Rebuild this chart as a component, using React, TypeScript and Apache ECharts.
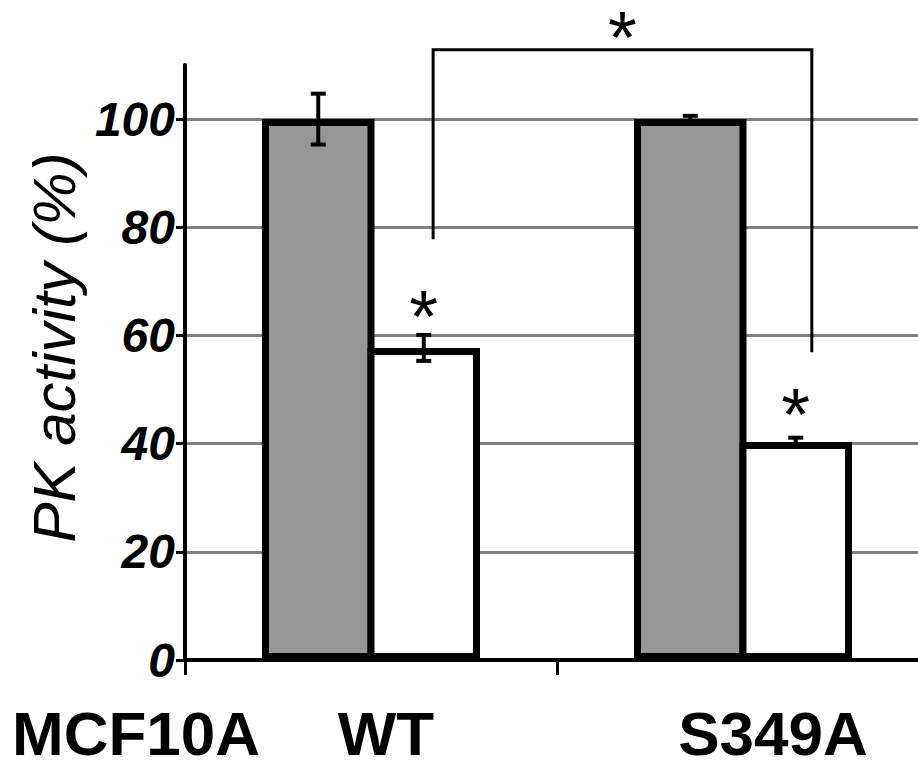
import React, { useEffect, useRef } from "react";
import * as echarts from "echarts";

// ---- data ----
const categories = ["WT", "S349A"];
const groupLabel = "MCF10A";
const controlValues = [100, 100];
const controlErrors = [4.7, 0.6];
const treatedValues = [57.7, 40.3];
const treatedErrors = [2.4, 0.8];
const yTicks = [0, 20, 40, 60, 80, 100];
const yName = "PK activity (%)";
// significance marks above treated bars: [category index, value]
const barStars = [
  [0, 66.2],
  [1, 48.1],
];
// bracket between treated bars: left end value, right end value, top value, star value
const bracketEnds = [77.8, 56.9];
const bracketTop = 112.8;
const bracketStar = 117.9;

// ---- style ----
const FONT = "'Liberation Sans', Arial, sans-serif";
const BAR_W = 112.5;
const BAR_OVERLAP = 7;
const BORDER = 7;
const BAR_OFFSET = (BAR_W - BAR_OVERLAP) / 2;

export default function App() {
  const ref = useRef<HTMLDivElement>(null);
  useEffect(() => {
    if (!ref.current) return;
    const chart = echarts.init(ref.current, null, { renderer: "svg" });

    const errData: number[][] = [];
    categories.forEach((_, i) => {
      errData.push([i, 0, controlValues[i] - controlErrors[i], controlValues[i] + controlErrors[i]]);
      errData.push([i, 1, treatedValues[i] - treatedErrors[i], treatedValues[i] + treatedErrors[i]]);
    });

    const xLabelStyle = {
      fontSize: 62,
      fontWeight: "bold",
      fontFamily: FONT,
      color: "#000",
      lineHeight: 50,
    };

    const option: any = {
      animation: false,
      backgroundColor: "#ffffff",
      grid: { left: 185, top: 65, width: 744, height: 595, containLabel: false, outerBoundsMode: "none" },
      xAxis: {
        type: "category",
        data: categories,
        boundaryGap: true,
        axisLine: { show: true, lineStyle: { color: "#000", width: 4 } },
        axisTick: { show: true, length: 15, alignWithLabel: false, lineStyle: { color: "#000", width: 3 } },
        splitLine: { show: false },
        axisLabel: {
          margin: 48,
          color: "#000",
          formatter: (v: string, i: number) => `{c${i}|${v}}`,
          rich: {
            c0: { ...xLabelStyle, padding: [0, 0, 0, 30] },
            c1: { ...xLabelStyle, padding: [0, 0, 0, 60] },
          },
        },
      },
      yAxis: {
        type: "value",
        min: 0,
        max: 110,
        interval: 20,
        name: yName,
        nameLocation: "middle",
        nameRotate: 90,
        nameGap: 90,
        nameTextStyle: {
          fontSize: 60,
          fontStyle: "italic",
          fontFamily: FONT,
          color: "#000",
          padding: [0, 0, 0, 30],
        },
        axisLine: { show: true, lineStyle: { color: "#000", width: 4 } },
        axisTick: { show: true, length: 9, customValues: yTicks, lineStyle: { color: "#000", width: 3 } },
        axisLabel: {
          customValues: yTicks,
          margin: 10,
          fontSize: 48,
          fontWeight: "bold",
          fontStyle: "italic",
          fontFamily: FONT,
          color: "#000",
        },
        splitLine: { show: true, lineStyle: { color: "#808080", width: 3 } },
      },
      series: [
        {
          name: "Control",
          type: "bar",
          data: controlValues,
          barWidth: BAR_W,
          barGap: `${(-BAR_OVERLAP / BAR_W) * 100}%`,
          itemStyle: { color: "#969696", borderColor: "#000", borderWidth: BORDER },
          z: 2,
        },
        {
          name: "Treated",
          type: "bar",
          data: treatedValues,
          barWidth: BAR_W,
          barGap: `${(-BAR_OVERLAP / BAR_W) * 100}%`,
          itemStyle: { color: "#ffffff", borderColor: "#000", borderWidth: BORDER },
          z: 3,
        },
        {
          name: "Error",
          type: "custom",
          data: errData,
          encode: { x: 0, y: [2, 3] },
          z: 5,
          clip: false,
          renderItem: (params: any, api: any) => {
            const cat = api.value(0);
            const side = api.value(1);
            const lo = api.coord([cat, api.value(2)]);
            const hi = api.coord([cat, api.value(3)]);
            const x = lo[0] + (side === 0 ? -1 : 1) * BAR_OFFSET;
            const cap = 7.5;
            const st = { stroke: "#000", lineWidth: 4 };
            return {
              type: "group",
              children: [
                { type: "line", shape: { x1: x, y1: lo[1], x2: x, y2: hi[1] }, style: st },
                { type: "line", shape: { x1: x - cap, y1: lo[1], x2: x + cap, y2: lo[1] }, style: st },
                { type: "line", shape: { x1: x - cap, y1: hi[1], x2: x + cap, y2: hi[1] }, style: st },
              ],
            };
          },
        },
        {
          name: "Significance",
          type: "custom",
          data: [[0, 0]],
          encode: { x: 0, y: 1 },
          z: 6,
          clip: false,
          silent: true,
          renderItem: (params: any, api: any) => {
            const band = api.size([1, 0])[0];
            const c0 = api.coord([0, 0])[0];
            const c1 = api.coord([1, 0])[0];
            const lx = c0 + band * 0.167;
            const rx = c1 + band * 0.185;
            const yl = api.coord([0, bracketEnds[0]])[1];
            const yr = api.coord([0, bracketEnds[1]])[1];
            const yt = api.coord([0, bracketTop])[1];
            const star = (x: number, y: number) => ({
              type: "text",
              x,
              y,
              style: {
                text: "*",
                fontSize: 74,
                fontFamily: FONT,
                fill: "#000",
                align: "center",
                verticalAlign: "middle",
              },
            });
            const starShift = 15;
            const children: any[] = [
              {
                type: "polyline",
                shape: { points: [[lx, yl], [lx, yt], [rx, yt], [rx, yr]] },
                style: { stroke: "#000", lineWidth: 3, fill: "none" },
              },
            ];
            const ys = api.coord([0, bracketStar])[1];
            children.push(star((lx + rx) / 2, ys + starShift));
            barStars.forEach(([cat, v]) => {
              const p = api.coord([cat, v]);
              children.push(star(p[0] + BAR_OFFSET, p[1] + starShift));
            });
            return { type: "group", children };
          },
        },
      ],
      graphic: [
        {
          type: "text",
          x: 12,
          y: 708,
          style: {
            text: groupLabel,
            fontSize: 62,
            fontWeight: "bold",
            fontFamily: FONT,
            fill: "#000",
            lineHeight: 50,
            verticalAlign: "top",
            align: "left",
          },
        },
      ],
    };
    chart.setOption(option);
    return () => chart.dispose();
  }, []);
  return (
    <div
      ref={ref}
      style={{ position: "absolute", left: 0, top: 0, width: 918, height: 763, overflow: "hidden" }}
    />
  );
}
